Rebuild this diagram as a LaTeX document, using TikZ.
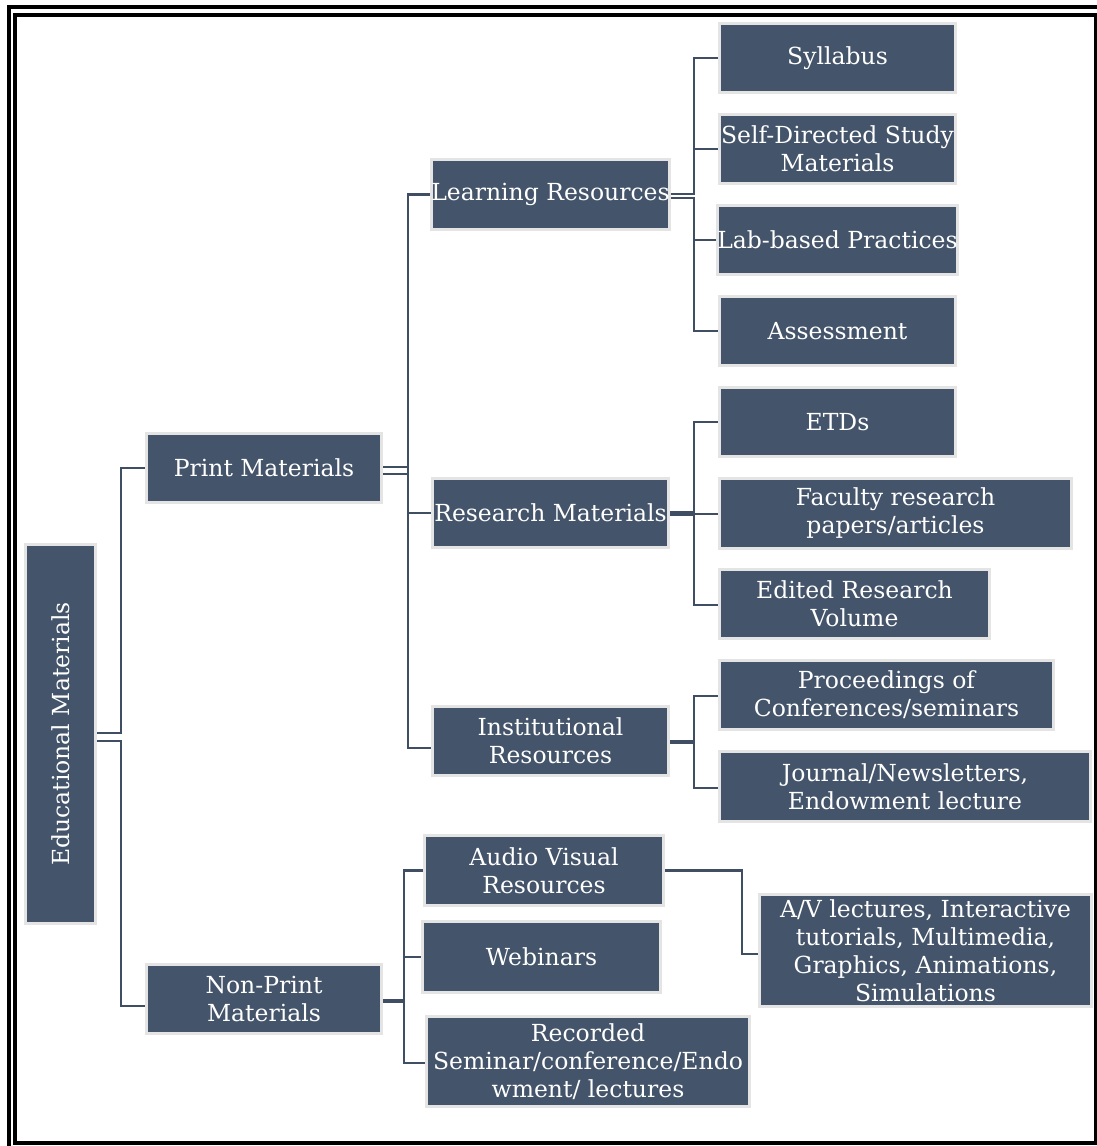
\documentclass[tikz,border=0pt]{standalone}
\usepackage{fontspec}
\setmainfont{DejaVu Serif}
\definecolor{boxfill}{HTML}{44546A}
\definecolor{boxedge}{HTML}{E4E4E4}
\definecolor{lineclr}{HTML}{3F4E63}
\tikzset{
  box/.style={fill=boxfill, draw=boxedge, line width=3pt, text=white, align=center,
    inner sep=0pt, font=\fontsize{23.5}{28}\selectfont},
  conn/.style={draw=lineclr, line width=2.5pt},
  frame/.style={draw=black, line width=4pt},
}
\begin{document}
\begin{tikzpicture}[x=1pt,y=-1pt]
\useasboundingbox (0,0) rectangle (1097,1146);
\clip (0,0) rectangle (1097,1146);
\draw[frame] (9,7) rectangle (1110,1160);
\draw[frame] (15.3,15.3) rectangle (1095.7,1143);

% nodes
\node[box, rotate=90, minimum width=379pt, minimum height=70pt] (edu) at (60.5,734) {Educational Materials};
\node[box, minimum width=235pt, minimum height=69pt] (print) at (264,468) {Print Materials};
\node[box, minimum width=235pt, minimum height=69pt] (nonprint) at (264,999) {Non-Print\\Materials};
\node[box, minimum width=236pt, minimum height=70pt] (learn) at (550.5,194.5) {Learning Resources};
\node[box, minimum width=236pt, minimum height=69pt] (research) at (550.5,513) {Research Materials};
\node[box, minimum width=236pt, minimum height=69pt] (inst) at (550.5,741) {Institutional\\Resources};
\node[box, minimum width=236pt, minimum height=69pt] (syll) at (837.5,58) {Syllabus};
\node[box, minimum width=236pt, minimum height=69pt] (self) at (837.5,149) {Self-Directed Study\\Materials};
\node[box, minimum width=236pt, minimum height=69pt] (lab) at (837.5,240) {Lab-based Practices};
\node[box, minimum width=236pt, minimum height=69pt] (assess) at (837.5,331) {Assessment};
\node[box, minimum width=236pt, minimum height=69pt] (etd) at (837.5,422) {ETDs};
\node[box, minimum width=352pt, minimum height=70pt] (faculty) at (895.5,513.5) {Faculty research\\papers/articles};
\node[box, minimum width=270pt, minimum height=69pt] (edited) at (854.5,604) {Edited Research\\Volume};
\node[box, minimum width=334pt, minimum height=69pt] (proc) at (886.5,695) {Proceedings of\\Conferences/seminars};
\node[box, minimum width=371pt, minimum height=70pt] (journal) at (905,786.5) {Journal/Newsletters,\\Endowment lecture};
\node[box, minimum width=239pt, minimum height=70pt] (av) at (544,870.5) {Audio Visual\\Resources};
\node[box, minimum width=238pt, minimum height=71pt] (web) at (541.5,957) {Webinars};
\node[box, minimum width=323pt, minimum height=90pt] (rec) at (588,1061.5) {Recorded\\Seminar/conference/Endo\\wment/ lectures};
\node[box, minimum width=332pt, minimum height=112pt] (avl) at (925.5,950.5) {A/V lectures, Interactive\\tutorials, Multimedia,\\Graphics, Animations,\\Simulations};

% bus positions
\coordinate (eb) at (121,0);
\coordinate (pb) at (408,0);
\coordinate (lb) at (694,0);
\coordinate (nb) at (404,0);
\coordinate (ab) at (742,0);

% Educational Materials
\draw[conn] ([yshift=1pt]edu.south) -- ([yshift=1pt]edu.south -| eb) |- (print.west);
\draw[conn] ([yshift=-7pt]edu.south) -- ([yshift=-7pt]edu.south -| eb) |- ([yshift=-7pt]nonprint.west);

% Print Materials
\draw[conn] ([yshift=1pt]print.east) -- ([yshift=1pt]print.east -| pb) |- (learn.west);
\draw[conn] ([yshift=1pt]print.east) -- ([yshift=1pt]print.east -| pb) |- (research.west);
\draw[conn] ([yshift=-6pt]print.east) -- ([yshift=-6pt]print.east -| pb) |- ([yshift=-7pt]inst.west);

% Learning Resources
\draw[conn] ([yshift=0.5pt]learn.east) -- ([yshift=0.5pt]learn.east -| lb) |- (syll.west);
\draw[conn] ([yshift=0.5pt]learn.east) -- ([yshift=0.5pt]learn.east -| lb) |- (self.west);
\draw[conn] ([yshift=-3.5pt]learn.east) -- ([yshift=-3.5pt]learn.east -| lb) |- (lab.west);
\draw[conn] ([yshift=-3.5pt]learn.east) -- ([yshift=-3.5pt]learn.east -| lb) |- (assess.west);

% Research Materials
\draw[conn] ([yshift=0.5pt]research.east) -- ([yshift=0.5pt]research.east -| lb) |- (etd.west);
\draw[conn] ([yshift=-0.5pt]research.east) -- ([yshift=-0.5pt]research.east -| lb) |- ([yshift=-0.5pt]faculty.west);
\draw[conn] ([yshift=-1.5pt]research.east) -- ([yshift=-1.5pt]research.east -| lb) |- ([yshift=-1pt]edited.west);

% Institutional Resources
\draw[conn] ([yshift=-0.5pt]inst.east) -- ([yshift=-0.5pt]inst.east -| lb) |- ([yshift=-1pt]proc.west);
\draw[conn] ([yshift=-1.5pt]inst.east) -- ([yshift=-1.5pt]inst.east -| lb) |- ([yshift=-1.5pt]journal.west);

% Non-Print Materials
\draw[conn] ([yshift=-1.5pt]nonprint.east) -- ([yshift=-1.5pt]nonprint.east -| nb) |- (av.west);
\draw[conn] ([yshift=-2.5pt]nonprint.east) -- ([yshift=-2.5pt]nonprint.east -| nb) |- (web.west);
\draw[conn] ([yshift=-2.5pt]nonprint.east) -- ([yshift=-2.5pt]nonprint.east -| nb) |- ([yshift=-1.5pt]rec.west);

% Audio Visual -> A/V lectures
\draw[conn] (av.east) -- (av.east -| ab) |- ([yshift=-3.5pt]avl.west);
\end{tikzpicture}
\end{document}
